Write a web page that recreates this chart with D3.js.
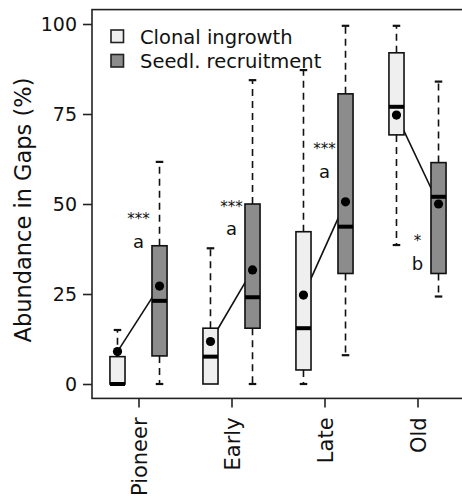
<!DOCTYPE html>
<html>
<head>
<meta charset="utf-8">
<script src="https://cdn.jsdelivr.net/npm/d3@7"></script>
<style>
    body { margin: 0; background: #fff; }
    text { font-family: "DejaVu Sans", sans-serif; fill: #111; }
</style>
</head>
<body>
<div id="container"></div>
<script>

// 1. The values (abundance in %)

var stages = ["Pioneer", "Early", "Late", "Old"];
var seriesNames = ["Clonal ingrowth", "Seedl. recruitment"];

var clonalLow  = [0, 0, 0, 38.6];
var clonalQ1   = [0, 0, 3.9, 69.2];
var clonalMed  = [0, 7.6, 15.5, 77];
var clonalQ3   = [7.6, 15.5, 42.3, 92];
var clonalHigh = [15, 37.7, 87.2, 99.5];
var clonalMean = [9, 11.8, 24.7, 74.7];

var seedlLow  = [0, 0, 8, 24.3];
var seedlQ1   = [7.8, 15.5, 30.7, 30.7];
var seedlMed  = [23.1, 24.1, 43.7, 52];
var seedlQ3   = [38.4, 50, 80.6, 61.5];
var seedlHigh = [61.7, 84.4, 99.5, 84];
var seedlMean = [27.2, 31.7, 50.6, 50];

var sigStars   = ["***", "***", "***", "*"];
var sigLetters = ["a", "a", "a", "b"];
var starsAt    = [44.4, 47.8, 63.9, 38.3];
var lettersAt  = [37.8, 41.4, 57.2, 31.7];

var yTicks = [0, 25, 50, 75, 100];
var fills = ["#efefef", "#8c8c8c"];

makeChart();

function makeChart () {

    // 2. svg and scales
    var width = 462;
    var height = 502;

    const svg = d3.select("#container")
                  .append("svg")
                  .attr("width", width)
                  .attr("height", height);

    // group positions 1..4, boxes sit left / right of the group tick
    var xScale = d3.scaleLinear()
                   .domain([0.5, 4.5])
                   .range([92, 464]);

    var yScale = d3.scaleLinear()
                   .domain([0, 100])
                   .range([384, 24]);

    var offset = 0.226;
    var boxW = xScale(0.5 + 0.162) - xScale(0.5);
    var capW = boxW / 2;

    // one record per box
    var boxes = [];
    stages.forEach(function (s, i) {
        boxes.push({pos: i + 1 - offset, fill: fills[0], low: clonalLow[i], q1: clonalQ1[i],
                    med: clonalMed[i], q3: clonalQ3[i], high: clonalHigh[i], mean: clonalMean[i]});
        boxes.push({pos: i + 1 + offset, fill: fills[1], low: seedlLow[i], q1: seedlQ1[i],
                    med: seedlMed[i], q3: seedlQ3[i], high: seedlHigh[i], mean: seedlMean[i]});
    });

    // 3. lines joining the means of each pair (drawn under the boxes)
    svg.selectAll(".pairline")
       .data(stages)
       .enter()
       .append("line")
       .attr("class", "pairline")
       .attr("x1", (d, i) => xScale(i + 1 - offset))
       .attr("y1", (d, i) => yScale(clonalMean[i]))
       .attr("x2", (d, i) => xScale(i + 1 + offset))
       .attr("y2", (d, i) => yScale(seedlMean[i]))
       .attr("stroke", "#111")
       .attr("stroke-width", 1.6);

    // 4. whiskers and staples
    var whisk = svg.append("g");

    boxes.forEach(function (b) {
        var cx = xScale(b.pos);
        var parts = [[b.q3, b.high]];
        if (b.low < b.q1) parts.push([b.q1, b.low]);
        parts.forEach(function (p) {
            whisk.append("line")
                 .attr("x1", cx).attr("x2", cx)
                 .attr("y1", yScale(p[0]))
                 .attr("y2", yScale(p[1]))
                 .attr("stroke", "#111")
                 .attr("stroke-width", 1.6)
                 .attr("stroke-dasharray", "7,5");
            whisk.append("line")
                 .attr("x1", cx - capW / 2)
                 .attr("x2", cx + capW / 2)
                 .attr("y1", yScale(p[1]))
                 .attr("y2", yScale(p[1]))
                 .attr("stroke", "#111")
                 .attr("stroke-width", 2.2);
        });
    });

    // 5. boxes, medians, means
    svg.selectAll(".box")
       .data(boxes)
       .enter()
       .append("rect")
       .attr("class", "box")
       .attr("x", (d) => xScale(d.pos) - boxW / 2)
       .attr("y", (d) => yScale(d.q3))
       .attr("width", boxW)
       .attr("height", (d) => yScale(d.q1) - yScale(d.q3))
       .attr("fill", (d) => d.fill)
       .attr("stroke", "#111")
       .attr("stroke-width", 1.6);

    svg.selectAll(".median")
       .data(boxes)
       .enter()
       .append("line")
       .attr("class", "median")
       .attr("x1", (d) => xScale(d.pos) - boxW / 2)
       .attr("x2", (d) => xScale(d.pos) + boxW / 2)
       .attr("y1", (d) => yScale(d.med))
       .attr("y2", (d) => yScale(d.med))
       .attr("stroke", "#000")
       .attr("stroke-width", 4);

    svg.selectAll(".mean")
       .data(boxes)
       .enter()
       .append("circle")
       .attr("class", "mean")
       .attr("cx", (d) => xScale(d.pos))
       .attr("cy", (d) => yScale(d.mean))
       .attr("r", 4.6)
       .attr("fill", "#000");

    // 6. significance marks
    svg.selectAll(".stars")
       .data(sigStars)
       .enter()
       .append("text")
       .attr("class", "stars")
       .attr("x", (d, i) => xScale(i + 1))
       .attr("y", (d, i) => yScale(starsAt[i]))
       .attr("text-anchor", "middle")
       .style("font-size", "15px")
       .text((d) => d);

    svg.selectAll(".letter")
       .data(sigLetters)
       .enter()
       .append("text")
       .attr("class", "letter")
       .attr("x", (d, i) => xScale(i + 1))
       .attr("y", (d, i) => yScale(lettersAt[i]))
       .attr("text-anchor", "middle")
       .style("font-size", "18px")
       .text((d) => d);

    // 7. frame and axes
    svg.append("rect")
       .attr("x", xScale(0.5))
       .attr("y", yScale(104))
       .attr("width", xScale(4.5) - xScale(0.5))
       .attr("height", yScale(-4) - yScale(104))
       .attr("fill", "none")
       .attr("stroke", "#222")
       .attr("stroke-width", 1.6);

    var yAxis = d3.axisLeft().scale(yScale)
        .tickValues(yTicks)
        .tickSize(9)
        .tickPadding(6);

    var gy = svg.append("g")
       .attr("transform", "translate(" + xScale(0.5) + ",0)")
       .call(yAxis);
    gy.select(".domain").remove();
    gy.selectAll("line").attr("stroke", "#222").attr("stroke-width", 1.6);
    gy.selectAll("text")
      .attr("fill", "#111")
      .style("font-size", "19px")
      .style("font-family", "DejaVu Sans");

    var xAxis = d3.axisBottom().scale(xScale)
        .tickValues([1, 2, 3, 4])
        .tickSize(9)
        .tickFormat((d) => stages[d - 1]);

    var gx = svg.append("g")
       .attr("transform", "translate(0," + yScale(-4) + ")")
       .call(xAxis);
    gx.select(".domain").remove();
    gx.selectAll("line").attr("stroke", "#222").attr("stroke-width", 1.6);
    gx.selectAll("text")
      .attr("fill", "#111")
      .attr("text-anchor", "end")
      .attr("x", 0)
      .attr("y", 0)
      .attr("dy", null)
      .attr("transform", "translate(8,19) rotate(-90)")
      .style("font-size", "21px")
      .style("font-family", "DejaVu Sans");

    svg.append("text")
       .attr("transform", "translate(31,210) rotate(-90)")
       .attr("text-anchor", "middle")
       .style("font-size", "22.5px")
       .text("Abundance in Gaps (%)");

    // 8. legend
    var legend = svg.selectAll(".legend")
       .data(seriesNames)
       .enter()
       .append("g")
       .attr("class", "legend")
       .attr("transform", (d, i) => "translate(111," + (30 + i * 24.5) + ")");

    legend.append("rect")
          .attr("width", 12.5)
          .attr("height", 12.5)
          .attr("fill", (d, i) => fills[i])
          .attr("stroke", "#222")
          .attr("stroke-width", 1.6);

    legend.append("text")
          .attr("x", 29)
          .attr("y", 13.5)
          .style("font-size", "19.5px")
          .text((d) => d);
}

</script>
</body>
</html>
